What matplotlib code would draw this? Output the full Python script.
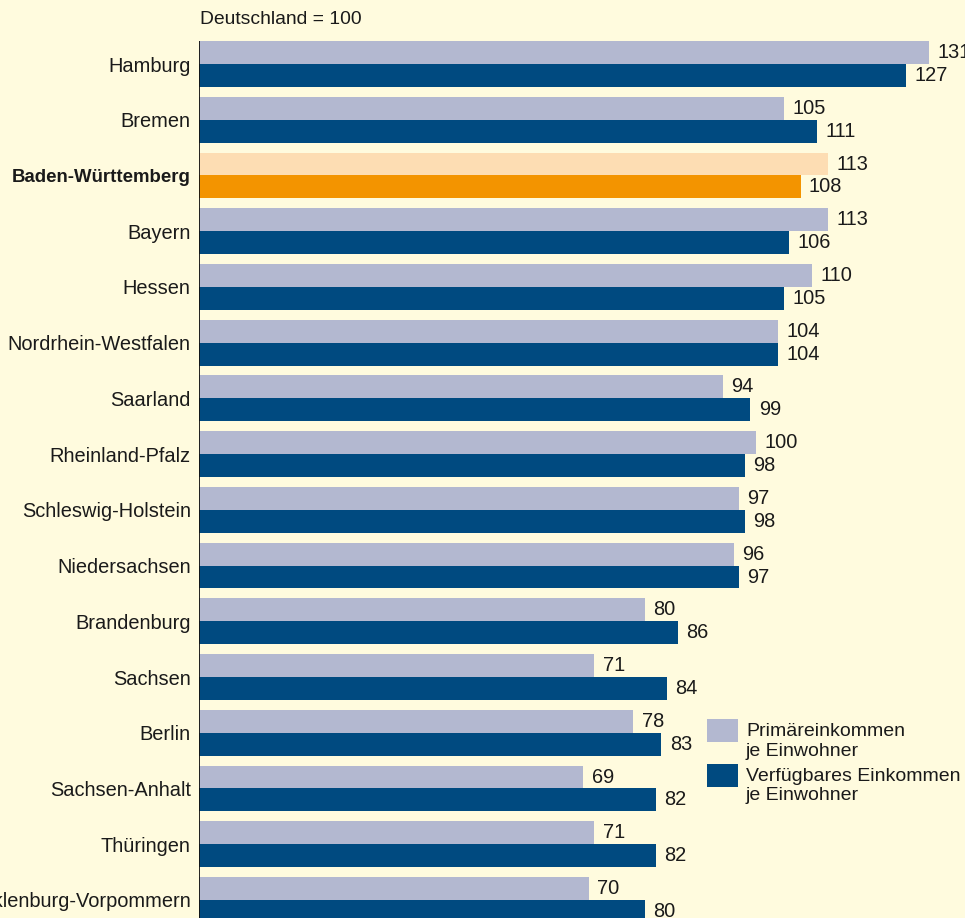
import numpy as np
import matplotlib
matplotlib.use("Agg")
import matplotlib.pyplot as plt
from matplotlib.patches import Rectangle

plt.rcParams["font.family"] = ["Liberation Sans", "DejaVu Sans"]
FS = 14.4

laender = [
    "Hamburg", "Bremen", "Baden-Württemberg", "Bayern", "Hessen",
    "Nordrhein-Westfalen", "Saarland", "Rheinland-Pfalz", "Schleswig-Holstein",
    "Niedersachsen", "Brandenburg", "Sachsen", "Berlin", "Sachsen-Anhalt",
    "Thüringen", "Mecklenburg-Vorpommern",
]
primaer = [131, 105, 113, 113, 110, 104, 94, 100, 97, 96, 80, 71, 78, 69, 71, 70]
verfuegbar = [127, 111, 108, 106, 105, 104, 99, 98, 98, 97, 86, 84, 83, 82, 82, 80]
highlight = "Baden-Württemberg"
legend_labels = [["Primäreinkommen", "je Einwohner"],
                 ["Verfügbares Einkommen", "je Einwohner"]]

BG = "#FFFBDE"
LIGHT = "#B3B8D0"
DARK = "#004A80"
LIGHT_HL = "#FDDDB3"
DARK_HL = "#F39400"
TXT = "#1a1a1a"

W, H = 965, 918
fig = plt.figure(figsize=(W / 100, H / 100), dpi=100, facecolor=BG)

# axes: x=0 at pixel 199, 5.57 px per unit; rows every 55.73 px
x0_px, px_per_unit = 199, 5.57
row_px, first_px = 55.73, 64
ax = fig.add_axes([x0_px / W, 0, 1 - x0_px / W, 1])
ax.set_facecolor(BG)
ax.set_xlim(0, (W - x0_px) / px_per_unit)
ax.set_ylim((H - first_px) / row_px, -first_px / row_px)

y = np.arange(len(laender))
h = 22.9 / row_px
c_light = [LIGHT_HL if l == highlight else LIGHT for l in laender]
c_dark = [DARK_HL if l == highlight else DARK for l in laender]

b1 = ax.barh(y - h / 2, primaer, height=h, color=c_light, linewidth=0)
b2 = ax.barh(y + h / 2, verfuegbar, height=h, color=c_dark, linewidth=0)
ax.bar_label(b1, padding=6, fontsize=FS, color=TXT)
ax.bar_label(b2, padding=6, fontsize=FS, color=TXT)

for s in ax.spines.values():
    s.set_visible(False)
ax.vlines(0, -h, len(laender) + 1, color="#111111", linewidth=1.3)

ax.set_xticks([])
ax.set_yticks(y)
ax.set_yticklabels(laender)
ax.tick_params(axis="y", length=0, pad=6, labelsize=FS, labelcolor=TXT)
for lab in ax.get_yticklabels():
    if lab.get_text() == highlight:
        lab.set_fontweight("bold")
        lab.set_fontsize(13.4)

fig.text(200 / W, 1 - 20 / H, "Deutschland = 100", ha="left", va="center",
         fontsize=13.9, color=TXT)

# legend: square aligned with first text line
for i, (col, lines) in enumerate(zip([LIGHT, DARK], legend_labels)):
    top = 719 + 45 * i
    fig.add_artist(Rectangle((707 / W, 1 - (top + 23) / H), 31 / W, 23 / H,
                             transform=fig.transFigure, facecolor=col,
                             linewidth=0))
    for j, line in enumerate(lines):
        base = top + 17 + 19.5 * j
        fig.text(746 / W, 1 - base / H, line, ha="left", va="baseline",
                 fontsize=14.0, color=TXT)

fig.savefig("out.png", dpi=100, facecolor=BG)
